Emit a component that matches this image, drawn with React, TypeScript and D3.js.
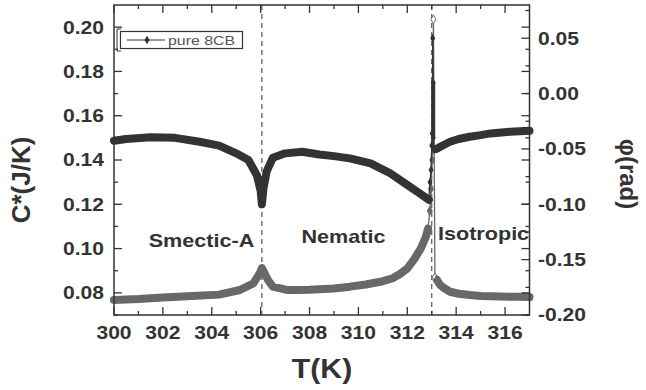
import React from 'react'
import * as d3 from 'd3'

// temperature axis
const T_DOMAIN = [300, 317]
const T_MAJOR = [300, 302, 304, 306, 308, 310, 312, 314, 316]
const C_DOMAIN = [0.07, 0.21]
const C_MAJOR = [0.08, 0.10, 0.12, 0.14, 0.16, 0.18, 0.20]
const PHI_DOMAIN = [-0.2, 0.08]
const PHI_MAJOR = [-0.20, -0.15, -0.10, -0.05, 0.00, 0.05]

const TRANSITIONS = [306.05, 313.0]

const PHASES = [
  { label: 'Smectic-A', t: 303.58, c: 0.1007 },
  { label: 'Nematic', t: 309.39, c: 0.1025 },
  { label: 'Isotropic', t: 315.12, c: 0.1039 },
]

// C* (left axis), dense band
const C_LEFT: [number, number][] = [
  [300.0, 0.0768], [301.0, 0.0772], [302.0, 0.0779], [303.0, 0.0785], [304.3, 0.0792],
  [305.15, 0.0813], [305.7, 0.0843], [305.97, 0.0890], [306.05, 0.0912], [306.3, 0.0858],
  [306.5, 0.0828], [307.07, 0.0813], [307.5, 0.0813], [308.0, 0.0814], [309.0, 0.0820],
  [309.65, 0.0828], [310.3, 0.0838], [310.9, 0.0850], [311.4, 0.0866], [311.7, 0.0885],
  [312.0, 0.0910], [312.3, 0.0955], [312.55, 0.1000], [312.75, 0.1050], [312.85, 0.1090],
]
const C_RIGHT: [number, number][] = [
  [313.2, 0.0860], [313.35, 0.0835], [313.5, 0.0822], [313.75, 0.0805], [314.1, 0.0796],
  [314.55, 0.0790], [315.0, 0.0786], [315.8, 0.0783], [316.5, 0.0782], [317.0, 0.0781],
]
const C_SPIKE: [number, number][] = [
  [312.85, 0.109], [312.92, 0.117], [312.97, 0.127], [313.02, 0.140],
  [313.07, 0.2035], [313.13, 0.087], [313.2, 0.086],
]
const C_OPEN = [4, 5]

// phase (right axis)
const PHI_LEFT: [number, number][] = [
  [300.0, -0.0426], [300.5, -0.0410], [301.5, -0.0395], [302.5, -0.0400], [303.5, -0.0435],
  [304.3, -0.0470], [305.0, -0.0540], [305.5, -0.0600], [305.85, -0.0740], [306.0, -0.0880],
  [306.05, -0.1000], [306.12, -0.0850], [306.25, -0.0700], [306.5, -0.0580], [307.0, -0.0540],
  [307.7, -0.0525], [308.4, -0.0550], [309.0, -0.0565], [309.65, -0.0585], [310.5, -0.0630],
  [311.3, -0.0720], [312.1, -0.0840], [312.5, -0.0900], [312.88, -0.0960],
]
const PHI_RIGHT: [number, number][] = [
  [313.2, -0.0500], [313.35, -0.0480], [313.75, -0.0435], [314.1, -0.0410], [314.55, -0.0390],
  [315.0, -0.0375], [315.4, -0.0360], [316.2, -0.0345], [317.0, -0.0336],
]
const PHI_SPIKE: [number, number][] = [
  [312.88, -0.096], [312.93, -0.080], [312.97, -0.069], [313.0, -0.047], [313.02, -0.036],
  [313.04, 0.050], [313.06, 0.010], [313.06, -0.040], [313.1, -0.051], [313.2, -0.050],
]
const PHI_BAR: [number, number][] = [[313.06, 0.010], [313.06, -0.040]]

const W = 646
const H = 390
const M = { l: 114, r: 529.5, t: 5, b: 315 }
const FONT = '"Liberation Sans", Arial, sans-serif'
const DARK = '#333'
const GREY = '#686868'
const SX = 1.17 // the original lettering is a bit wider than Arial

function Txt({ x, y, size, anchor = 'start', bold = true, fill = DARK, sx = SX, dy, children }: any) {
  return (
    <text transform={`translate(${x},${y}) scale(${sx},1)`} textAnchor={anchor} fontSize={size}
      fontWeight={bold ? 'bold' : 'normal'} fill={fill} dy={dy}>{children}</text>
  )
}

export default function App() {
  const x = d3.scaleLinear().domain(T_DOMAIN).range([M.l, M.r])
  const yC = d3.scaleLinear().domain(C_DOMAIN).range([M.b, M.t])
  const yP = d3.scaleLinear().domain(PHI_DOMAIN).range([M.b, M.t])

  const lineC = d3.line<[number, number]>().x(d => x(d[0])).y(d => yC(d[1]))
  const lineP = d3.line<[number, number]>().x(d => x(d[0])).y(d => yP(d[1]))
  const diamond = d3.symbol().type(d3.symbolDiamond).size(22)()

  const tMinor = d3.range(301, 317, 2)
  const cMinor = d3.range(0.07, 0.21, 0.02)
  const pMinor = d3.range(-0.175, 0.08, 0.05)

  return (
    <svg width={W} height={H} style={{ position: 'absolute', left: 0, top: 0, background: '#fff' }}
      fontFamily={FONT}>
      {/* dashed transition lines */}
      {TRANSITIONS.map(t => (
        <line key={t} x1={x(t)} x2={x(t)} y1={M.t} y2={M.b} stroke="#555" strokeWidth={1.2}
          strokeDasharray="5,4" />
      ))}

      {/* C* series */}
      <g fill="none" stroke={GREY} strokeLinejoin="round" strokeLinecap="round">
        <path d={lineC(C_LEFT) || ''} strokeWidth={8} />
        <path d={lineC(C_RIGHT) || ''} strokeWidth={8} />
        <path d={lineC(C_SPIKE) || ''} strokeWidth={1.3} />
      </g>
      {C_SPIKE.map((d, i) => (
        <path key={'cs' + i} d={diamond || ''} transform={`translate(${x(d[0])},${yC(d[1])})`}
          fill={C_OPEN.includes(i) ? '#fff' : GREY} stroke={GREY} strokeWidth={1} />
      ))}

      {/* phase series */}
      <g fill="none" stroke={DARK} strokeLinejoin="round" strokeLinecap="round">
        <path d={lineP(PHI_LEFT) || ''} strokeWidth={8} />
        <path d={lineP(PHI_RIGHT) || ''} strokeWidth={8} />
        <path d={lineP(PHI_SPIKE) || ''} strokeWidth={1.3} />
        <path d={lineP(PHI_BAR) || ''} strokeWidth={4} strokeLinecap="butt" />
      </g>
      {PHI_SPIKE.map((d, i) => (
        <path key={'ps' + i} d={diamond || ''} transform={`translate(${x(d[0])},${yP(d[1])})`}
          fill={DARK} />
      ))}

      {/* phase labels */}
      {PHASES.map(p => (
        <Txt key={p.label} x={x(p.t)} y={yC(p.c)} size={18} sx={1.2} anchor="middle">{p.label}</Txt>
      ))}

      {/* frame */}
      <rect x={M.l} y={M.t} width={M.r - M.l} height={M.b - M.t} fill="none" stroke={DARK}
        strokeWidth={1.5} />

      {/* bottom and top ticks */}
      {T_MAJOR.map(t => (
        <g key={'tx' + t}>
          <line x1={x(t)} x2={x(t)} y1={M.b} y2={M.b - 8} stroke={DARK} strokeWidth={1.3} />
          <line x1={x(t)} x2={x(t)} y1={M.t} y2={M.t + 8} stroke={DARK} strokeWidth={1.3} />
          <Txt x={x(t)} y={339} size={18} anchor="middle">{t}</Txt>
        </g>
      ))}
      {tMinor.map(t => (
        <g key={'tm' + t}>
          <line x1={x(t)} x2={x(t)} y1={M.b} y2={M.b - 4} stroke={DARK} strokeWidth={1.3} />
          <line x1={x(t)} x2={x(t)} y1={M.t} y2={M.t + 4} stroke={DARK} strokeWidth={1.3} />
        </g>
      ))}

      {/* left ticks (mirrored on right) */}
      {C_MAJOR.map(c => (
        <g key={'c' + c}>
          <line x1={M.l} x2={M.l + 8} y1={yC(c)} y2={yC(c)} stroke={DARK} strokeWidth={1.3} />
          <line x1={M.r} x2={M.r - 8} y1={yC(c)} y2={yC(c)} stroke={DARK} strokeWidth={1.3} />
          <Txt x={104} y={yC(c)} dy="0.36em" size={18} anchor="end">{c.toFixed(2)}</Txt>
        </g>
      ))}
      {cMinor.map(c => (
        <g key={'cm' + c}>
          <line x1={M.l} x2={M.l + 4} y1={yC(c)} y2={yC(c)} stroke={DARK} strokeWidth={1.3} />
          <line x1={M.r} x2={M.r - 4} y1={yC(c)} y2={yC(c)} stroke={DARK} strokeWidth={1.3} />
        </g>
      ))}

      {/* right ticks */}
      {PHI_MAJOR.map(p => (
        <g key={'p' + p}>
          <line x1={M.r} x2={M.r - 8} y1={yP(p)} y2={yP(p)} stroke={DARK} strokeWidth={1.3} />
          <Txt x={538} y={yP(p)} dy="0.36em" size={18}>{p.toFixed(2)}</Txt>
        </g>
      ))}
      {pMinor.map(p => (
        <line key={'pm' + p} x1={M.r} x2={M.r - 4} y1={yP(p)} y2={yP(p)} stroke={DARK}
          strokeWidth={1.3} />
      ))}

      {/* axis titles */}
      <Txt x={322} y={378} size={27} sx={1.12} anchor="middle">T(K)</Txt>
      <text transform="translate(30,180) rotate(-90)" textAnchor="middle" fontSize={26}
        fontWeight="bold" fill={DARK}>C*(J/K)</text>
      <text transform="translate(620,174) rotate(90)" textAnchor="middle" fontSize={24}
        fontWeight="bold" fill={DARK}>φ(rad)</text>

      {/* legend */}
      <path d="M121,29 H117 V51 H121" fill="none" stroke={DARK} strokeWidth={1} />
      <rect x={120.5} y={31.5} width={122} height={17} fill="#fff" stroke={DARK} strokeWidth={1.2} />
      <line x1={127} x2={165} y1={40} y2={40} stroke={DARK} strokeWidth={1} />
      <path d={diamond || ''} transform="translate(147,40)" fill={DARK} />
      <Txt x={168} y={44.5} size={13} sx={1.22} bold={false} fill="#555">pure 8CB</Txt>
    </svg>
  )
}
